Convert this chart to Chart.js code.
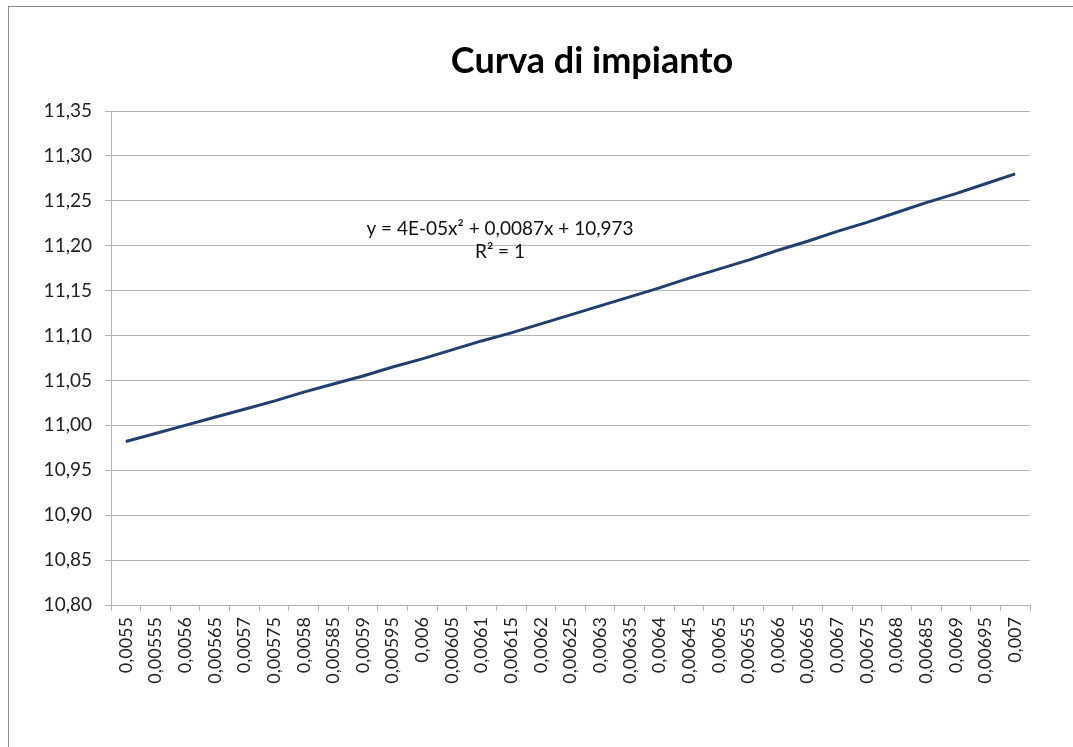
<!DOCTYPE html>
<html>
<head>
<meta charset="utf-8">
<script src="https://cdn.jsdelivr.net/npm/chart.js@4/dist/chart.umd.min.js"></script>
<style>
  html, body { margin: 0; padding: 0; background: #fff; }
  #wrap { position: relative; width: 1073px; height: 747px; overflow: hidden; }
  #frame { position: absolute; left: 8px; top: 6px; width: 1200px; height: 900px; border: 1px solid #8c8c8c; }
  canvas { position: absolute; left: 0; top: 0; }
</style>
</head>
<body>
<div id="wrap">
  <div id="frame"></div>
  <canvas id="chart" width="1073" height="747"></canvas>
</div>
<script>
// Categories (x axis, as printed)
const categories = ['0,0055','0,00555','0,0056','0,00565','0,0057','0,00575','0,0058','0,00585','0,0059','0,00595',
  '0,006','0,00605','0,0061','0,00615','0,0062','0,00625','0,0063','0,00635','0,0064','0,00645',
  '0,0065','0,00655','0,0066','0,00665','0,0067','0,00675','0,0068','0,00685','0,0069','0,00695','0,007'];

// Values
const values = [10.982, 10.991, 11.000, 11.009, 11.018, 11.027, 11.037, 11.046, 11.055, 11.065,
  11.074, 11.084, 11.094, 11.103, 11.113, 11.123, 11.133, 11.143, 11.153, 11.164,
  11.174, 11.184, 11.195, 11.205, 11.216, 11.226, 11.237, 11.248, 11.258, 11.269, 11.280];

// Y axis range
const yMin = 10.80, yMax = 11.35, yStep = 0.05;

const titleText = 'Curva di impianto';
const trendLines = ['y = 4E-05x² + 0,0087x + 10,973', 'R² = 1'];

const FONT = 'Lato, "Open Sans", sans-serif';
const gridColor = '#b4b4b4';

// title + trendline label drawn as canvas text
const textPlugin = {
  id: 'texts',
  afterDraw(chart){
    const ctx = chart.ctx;
    ctx.save();
    ctx.fillStyle = '#000';
    ctx.textAlign = 'center';
    ctx.textBaseline = 'middle';
    ctx.font = 'bold 36px ' + FONT;
    ctx.fillText(titleText, 592, 61);
    ctx.font = '19px ' + FONT;
    ctx.fillStyle = '#111';
    ctx.fillText(trendLines[0], 500, 229);
    ctx.fillText(trendLines[1], 500, 252);
    ctx.restore();
  }
};

new Chart(document.getElementById('chart'), {
  type: 'line',
  data: {
    labels: categories,
    datasets: [{
      data: values,
      borderColor: '#1f3f70',
      borderWidth: 3,
      pointRadius: 0,
      tension: 0,
      fill: false
    }]
  },
  options: {
    responsive: false,
    animation: false,
    layout: { padding: { top: 111, right: 43, left: 0, bottom: 0 } },
    plugins: { legend: { display: false }, tooltip: { enabled: false }, title: { display: false } },
    scales: {
      x: {
        offset: true,
        grid: { display: true, drawOnChartArea: false, drawTicks: true, tickLength: 6, offset: true, color: gridColor },
        border: { display: true, color: gridColor },
        ticks: { autoSkip: false, minRotation: 90, maxRotation: 90, padding: 6, color: '#222', font: { family: FONT, size: 18 } },
        afterFit(scale){ scale.height = 142; }
      },
      y: {
        min: yMin, max: yMax,
        grid: { color: gridColor, tickLength: 6 },
        border: { display: true, color: gridColor },
        ticks: {
          stepSize: yStep, padding: 13, color: '#222', font: { family: FONT, size: 19 },
          callback: v => v.toFixed(2).replace('.', ',')
        },
        afterFit(scale){ scale.width = 111; }
      }
    }
  },
  plugins: [textPlugin]
});
</script>
</body>
</html>
